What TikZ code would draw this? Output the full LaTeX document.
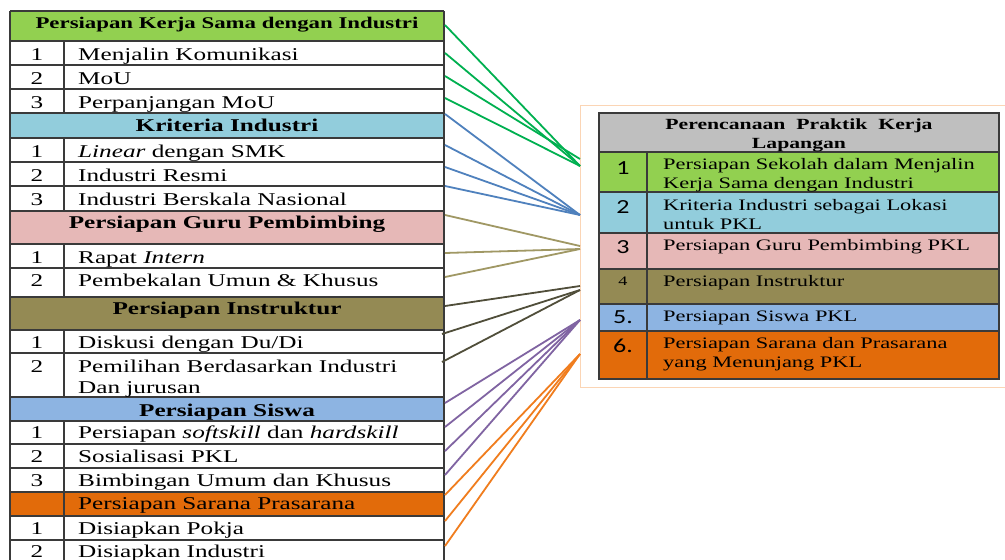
\documentclass[tikz,border=0pt]{standalone}
\usepackage{fontspec}
\setmainfont{Liberation Serif}[FakeStretch=1.4]
\newfontfamily\numsans{Carlito}[FakeStretch=1.3]
\definecolor{cGreen}{HTML}{92D050}
\definecolor{cKrit}{HTML}{92CDDC}
\definecolor{cGuru}{HTML}{E6B8B7}
\definecolor{cInst}{HTML}{948A54}
\definecolor{cSiswa}{HTML}{8DB4E2}
\definecolor{cSarana}{HTML}{E26B0A}
\definecolor{cGray}{HTML}{BFBFBF}
\definecolor{cPeach}{HTML}{FBD5B5}
\definecolor{cBorder}{HTML}{3A3A3A}
\definecolor{lGreen}{HTML}{00B050}
\definecolor{lBlue}{HTML}{4F81BD}
\definecolor{lTan}{RGB}{160,152,100}
\definecolor{lDark}{RGB}{80,78,58}
\definecolor{lPurple}{HTML}{8064A2}
\definecolor{lOrange}{RGB}{240,125,30}
\tikzset{
  grid/.style={draw=cBorder, line width=1.3pt},
  ltxt/.style={anchor=base west, inner sep=0pt, font=\fontsize{18}{22}\selectfont},
  lnum/.style={anchor=base, inner sep=0pt, font=\fontsize{18}{22}\selectfont},
  lhead/.style={anchor=base, inner sep=0pt, font=\fontsize{18}{22}\selectfont\bfseries},
  rtxt/.style={anchor=base west, inner sep=0pt, font=\fontsize{16}{19}\selectfont},
  rnum/.style={anchor=base, inner sep=0pt, font=\numsans\fontsize{20}{22}\selectfont},
  conn/.style={line width=1.8pt},
}
\begin{document}
\begin{tikzpicture}[x=1pt,y=-1pt]
\useasboundingbox (0,0) rectangle (1005,560);
\clip (0,0) rectangle (1005,560);
\fill[white] (0,0) rectangle (1005,560);
% ---------- left table fills
\fill[cGreen]  (10,11)  rectangle (444,41);
\fill[cKrit]   (10,113) rectangle (444,138);
\fill[cGuru]   (10,211) rectangle (444,244);
\fill[cInst]   (10,297) rectangle (444,330);
\fill[cSiswa]  (10,397) rectangle (444,421);
\fill[cSarana] (10,492) rectangle (444,516);
% horizontal lines
\foreach \y in {11,41,65,89,113,138,162,186,211,244,268,297,330,353,397,421,444,468,492,516,540}
  \draw[grid] (10,\y) -- (444,\y);
\draw[grid] (10,11) -- (10,566);
\draw[grid] (444,11) -- (444,566);
\draw[grid] (64,41) -- (64,113);
\draw[grid] (64,138) -- (64,211);
\draw[grid] (64,244) -- (64,297);
\draw[grid] (64,330) -- (64,397);
\draw[grid] (64,421) -- (64,566);
% ---------- left table texts
\node[lhead, font=\fontsize{16.3}{20}\selectfont\bfseries] (h1) at (227,28) {Persiapan Kerja Sama dengan Industri};
\node[lnum] (n11) at (37,60) {1}; \node[ltxt] (t11) at (78,60) {Menjalin Komunikasi};
\node[lnum] (n12) at (37,84) {2}; \node[ltxt] (t12) at (78,84) {MoU};
\node[lnum] (n13) at (37,108) {3}; \node[ltxt] (t13) at (78,108) {Perpanjangan MoU};
\node[lhead] (h2) at (227,131) {Kriteria Industri};
\node[lnum] (n21) at (37,157) {1}; \node[ltxt] (t21) at (78,157) {\textit{Linear} dengan SMK};
\node[lnum] (n22) at (37,181) {2}; \node[ltxt] (t22) at (78,181) {Industri Resmi};
\node[lnum] (n23) at (37,205) {3}; \node[ltxt] (t23) at (78,205) {Industri Berskala Nasional};
\node[lhead] (h3) at (227,228) {Persiapan Guru Pembimbing};
\node[lnum] (n31) at (37,263) {1}; \node[ltxt] (t31) at (78,263) {Rapat \textit{Intern}};
\node[lnum] (n32) at (37,286) {2}; \node[ltxt] (t32) at (78,286) {Pembekalan Umun \& Khusus};
\node[lhead] (h4) at (227,314) {Persiapan Instruktur};
\node[lnum] (n41) at (37,348) {1}; \node[ltxt] (t41) at (78,348) {Diskusi dengan Du/Di};
\node[lnum] (n42) at (37,372) {2}; \node[ltxt] (t42) at (78,372) {Pemilihan Berdasarkan Industri};
\node[ltxt] (t42b) at (78,393) {Dan jurusan};
\node[lhead] (h5) at (227,416) {Persiapan Siswa};
\node[lnum] (n51) at (37,438) {1}; \node[ltxt] (t51) at (78,438) {Persiapan \textit{softskill} dan \textit{hardskill}};
\node[lnum] (n52) at (37,462) {2}; \node[ltxt] (t52) at (78,462) {Sosialisasi PKL};
\node[lnum] (n53) at (37,486) {3}; \node[ltxt] (t53) at (78,486) {Bimbingan Umum dan Khusus};
\node[ltxt] (h6) at (78,509) {Persiapan Sarana Prasarana};
\node[lnum] (n61) at (37,534) {1}; \node[ltxt] (t61) at (78,534) {Disiapkan Pokja};
\node[lnum] (n62) at (37,557) {2}; \node[ltxt] (t62) at (78,557) {Disiapkan Industri};
% ---------- right box
\draw[cPeach, line width=1pt] (580,105) -- (1010,105);
\draw[cPeach, line width=1pt] (580,105) -- (580,387) -- (1010,387);
\fill[cGray]   (599,113) rectangle (999,152);
\fill[cGreen]  (599,152) rectangle (999,192);
\fill[cKrit]   (599,192) rectangle (999,233);
\fill[cGuru]   (599,233) rectangle (999,269);
\fill[cInst]   (599,269) rectangle (999,304);
\fill[cSiswa]  (599,304) rectangle (999,331);
\fill[cSarana] (599,331) rectangle (999,379);
\foreach \y in {152,192,233,269,304,331}
  \draw[grid] (599,\y) -- (999,\y);
\draw[grid] (599,113) rectangle (999,379);
\draw[grid] (647,152) -- (647,379);
\node[anchor=base, inner sep=0pt, font=\fontsize{15.5}{19}\selectfont\bfseries] (rh1) at (799,129) {Perencanaan\ \ Praktik\ \ Kerja};
\node[anchor=base, inner sep=0pt, font=\fontsize{15.5}{19}\selectfont\bfseries] (rh2) at (799,148) {Lapangan};
\node[rnum] (rn1) at (623,174) {1};
\node[rtxt] (r1a) at (663,169) {Persiapan Sekolah dalam Menjalin};
\node[rtxt] (r1b) at (663,188) {Kerja Sama dengan Industri};
\node[rnum] (rn2) at (623,213) {2};
\node[rtxt] (r2a) at (663,210) {Kriteria Industri sebagai Lokasi};
\node[rtxt] (r2b) at (663,229) {untuk PKL};
\node[rnum] (rn3) at (623,253) {3};
\node[rtxt] (r3) at (663,250) {Persiapan Guru Pembimbing PKL};
\node[anchor=base, inner sep=0pt, font=\fontsize{13}{15}\selectfont] (rn4) at (623,285) {4};
\node[rtxt] (r4) at (663,286) {Persiapan Instruktur};
\node[rnum] (rn5) at (623,323) {5.};
\node[rtxt] (r5) at (663,321) {Persiapan Siswa PKL};
\node[rnum] (rn6) at (623,352) {6.};
\node[rtxt] (r6a) at (663,348) {Persiapan Sarana dan Prasarana};
\node[rtxt] (r6b) at (663,367) {yang Menunjang PKL};
% ---------- connector end points
\coordinate (gA) at (580,159); \coordinate (gB) at (580,166);
\coordinate (bA) at (580,215);
\coordinate (tA) at (580,246); \coordinate (tB) at (580,249);
\coordinate (dA) at (580,286); \coordinate (dB) at (580,290);
\coordinate (pA) at (580,320);
\coordinate (oA) at (580,354);
\coordinate (L1) at (445,25);  \coordinate (L2) at (445,53);  \coordinate (L3) at (445,76);  \coordinate (L4) at (445,98);
\coordinate (L5) at (445,114); \coordinate (L6) at (445,145); \coordinate (L7) at (445,167); \coordinate (L8) at (445,186);
\coordinate (L9) at (445,215); \coordinate (L10) at (445,253); \coordinate (L11) at (445,277);
\coordinate (L12) at (445,306); \coordinate (L13) at (442,334); \coordinate (L14) at (442,362);
\coordinate (L15) at (445,403); \coordinate (L16) at (445,427); \coordinate (L17) at (445,451); \coordinate (L18) at (445,475);
\coordinate (L19) at (445,495); \coordinate (L20) at (445,521); \coordinate (L21) at (445,546);
\draw[conn, lGreen] (L1) -- (gB);
\draw[conn, lGreen] (L2) -- (gB);
\draw[conn, lGreen] (L3) -- (gA);
\draw[conn, lGreen] (L4) -- (gB);
\foreach \i in {5,6,7,8} \draw[conn, lBlue] (L\i) -- (bA);
\draw[conn, lTan] (L9) -- (tA);
\draw[conn, lTan] (L10) -- (tB);
\draw[conn, lTan] (L11) -- (tB);
\draw[conn, lDark] (L12) -- (dA);
\draw[conn, lDark] (L13) -- (dB);
\draw[conn, lDark] (L14) -- (dB);
\foreach \i in {15,16,17,18} \draw[conn, lPurple] (L\i) -- (pA);
\foreach \i in {19,20,21} \draw[conn, lOrange] (L\i) -- (oA);
\end{tikzpicture}
\end{document}
